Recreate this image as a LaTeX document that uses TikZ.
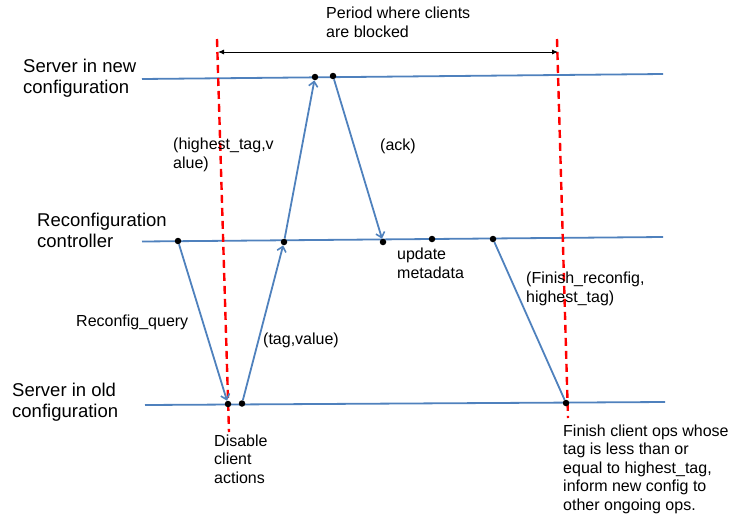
\documentclass[tikz,border=0pt]{standalone}
\usepackage{fontspec}
\setmainfont{Liberation Sans}
\usetikzlibrary{arrows.meta}
\definecolor{lineblue}{RGB}{79,129,189}
\begin{document}
\begin{tikzpicture}[x=1pt,y=-1pt,
  timeline/.style={draw=lineblue, line width=1.8pt},
  msg/.style={draw=lineblue, line width=1.8pt},
  msgarrow/.style={msg, -{Straight Barb[length=5pt,width=9pt,line width=1.6pt]}},
  blocked/.style={draw=red, line width=2.4pt, dash pattern=on 8pt off 5pt},
  evt/.style={circle, fill=black, inner sep=0pt, minimum size=6.5pt},
  lbl/.style={anchor=base west, inner sep=0pt, align=left, font=\fontsize{16}{18.5}\selectfont},
  bigl/.style={anchor=base west, inner sep=0pt, align=left, font=\fontsize{18.5}{20.5}\selectfont}]
\useasboundingbox (0,0) rectangle (733,517);

% timelines
\coordinate (tL) at (142,79);  \coordinate (tR) at (663,74);
\coordinate (mL) at (142,241.5); \coordinate (mR) at (663,237);
\coordinate (bL) at (145,405); \coordinate (bR) at (665,402);
\draw[timeline] (tL) -- (tR);
\draw[timeline] (mL) -- (mR);
\draw[timeline] (bL) -- (bR);

% red dashed period limits
\coordinate (r1t) at (217,39); \coordinate (r1b) at (229,432);
\coordinate (r2t) at (557,39); \coordinate (r2b) at (568,418);
\draw[blocked] (r1t) -- (r1b);
\draw[blocked] (r2t) -- (r2b);

% blocked period arrow
\coordinate (pa) at (218,52); \coordinate (pb) at (558,52);
\draw[line width=0.9pt, {Latex[length=6pt,width=5pt]}-{Latex[length=6pt,width=5pt]}] (pa) -- (pb);

% events
\node[evt] (t1) at (315,77) {};
\node[evt] (t2) at (333,76) {};
\node[evt] (m1) at (178,241) {};
\node[evt] (m2) at (284,242) {};
\node[evt] (m3) at (383,242) {};
\node[evt] (m4) at (432,239) {};
\node[evt] (m5) at (493,239) {};
\node[evt] (b1) at (228,404) {};
\node[evt] (b2) at (242,403.5) {};
\node[evt] (b3) at (566,403) {};

% messages
\draw[msgarrow] (m1) -- (b1);
\draw[msgarrow] (b2) -- (m2);
\draw[msgarrow] (m2) -- (t1);
\draw[msgarrow] (t2) -- (m3);
\draw[msg] (m5) -- (b3);

% labels (anchored at the baseline of their last line)
\node[lbl] (period) at (326,37) {Period where clients\\are blocked};
\node[bigl] (snew) at (23,93) {Server in new\\configuration};
\node[bigl] (rc) at (37,247) {Reconfiguration\\controller};
\node[bigl] (sold) at (12,417) {Server in old\\configuration};
\node[lbl] (hv) at (173,168) {(highest\_tag,v\\alue)};
\node[lbl] (ack) at (380,150) {(ack)};
\node[lbl] (um) at (397,278) {update\\metadata};
\node[lbl] (fr) at (526,302) {(Finish\_reconfig,\\highest\_tag)};
\node[lbl] (rq) at (76,326) {Reconfig\_query};
\node[lbl] (tv) at (263,344) {(tag,value)};
\node[lbl] (dis) at (214,483) {Disable\\client\\actions};
\node[lbl] (fin) at (563,510) {Finish client ops whose\\tag is less than or\\equal to highest\_tag,\\inform new config to\\other ongoing ops.};
\end{tikzpicture}
\end{document}
